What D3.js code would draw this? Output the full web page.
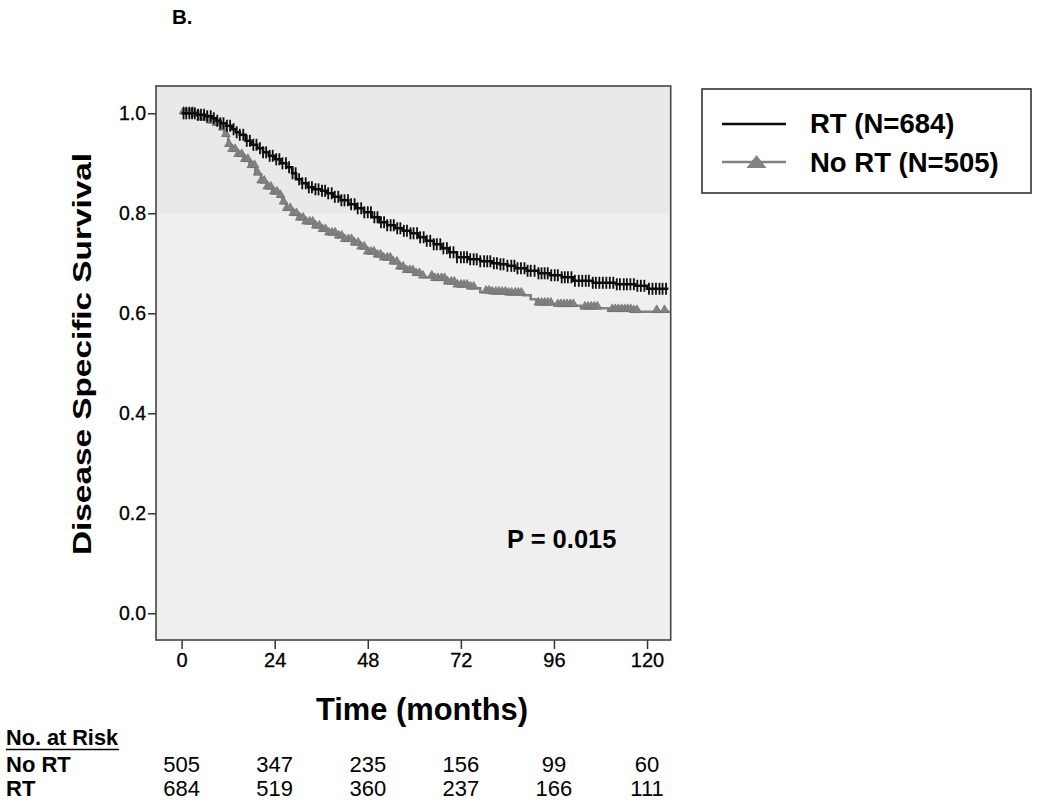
<!DOCTYPE html>
<html>
<head>
<meta charset="utf-8">
<script src="https://cdn.jsdelivr.net/npm/d3@7/dist/d3.min.js"></script>
<style>
  html, body { margin: 0; padding: 0; background: #ffffff; }
  svg { display: block; }
  text { font-family: "Liberation Sans", Arial, Helvetica, sans-serif; fill: #000; }
</style>
</head>
<body>
<svg id="chart" width="1050" height="803"></svg>
<script>
// ---------------- DATA ----------------
const xTicks = [0, 24, 48, 72, 96, 120];
const yTicks = [0.0, 0.2, 0.4, 0.6, 0.8, 1.0];

// Kaplan-Meier steps [time (months), survival]
const rtSteps = [[0,1.0],[4,0.997],[6,0.994],[8,0.99],[9,0.985],[10,0.98],[11.5,0.975],[13,0.968],[14,0.962],[15,0.957],
  [16.5,0.945],[18,0.937],[19.5,0.93],[21,0.922],[22.5,0.915],[24,0.908],[25.5,0.9],[27,0.892],[28.5,0.88],[29.5,0.868],
  [31,0.86],[32.5,0.852],[34,0.848],[36,0.845],[37.5,0.84],[39,0.833],[41,0.826],[43,0.818],[45,0.81],[47,0.802],
  [49,0.792],[51,0.782],[53,0.776],[55,0.77],[57,0.765],[59,0.76],[61,0.752],[63,0.745],[65,0.738],[67,0.73],
  [69,0.722],[71,0.712],[74,0.708],[77,0.704],[80,0.7],[82,0.698],[84,0.695],[86,0.69],[89,0.685],[92,0.68],
  [95,0.676],[98,0.672],[101,0.665],[106,0.661],[112,0.658],[117,0.655],[120,0.649],[125.5,0.649]];

const noRtSteps = [[0,1.0],[3,0.995],[5,0.988],[7,0.982],[8.5,0.977],[10,0.968],[11,0.955],[12,0.935],[13,0.925],[14.5,0.915],
  [16,0.905],[17.5,0.893],[19,0.878],[20.5,0.862],[22,0.85],[23.5,0.84],[25,0.833],[26,0.82],[27,0.807],[28.5,0.797],
  [30,0.788],[32,0.78],[34,0.772],[36,0.765],[38,0.758],[40,0.752],[42,0.745],[44,0.738],[46,0.73],[48,0.72],
  [50,0.714],[52,0.708],[54,0.7],[56,0.69],[58,0.683],[60,0.677],[62,0.672],[65,0.667],[68,0.66],[71,0.654],
  [74,0.65],[77,0.642],[80,0.64],[84,0.638],[88,0.636],[90,0.628],[91.5,0.618],[97,0.615],[103,0.61],[110,0.605],
  [116,0.603],[126,0.603]];

// censored observation times (months)
const rtCensor = [0.5,1.2,2,2.7,3.4,4.2,5,5.8,6.6,7.5,8.3,9.2,10,10.8,11.7,12.5,13.4,14.2,15,15.9,16.8,17.6,18.5,19.3,
  20.2,21,21.8,22.7,23.5,24.4,25.2,26,26.9,27.7,28.6,29.4,30.3,31.1,32,32.8,33.6,34.5,35.3,36.2,37,37.8,38.7,39.5,
  40.4,41.2,42,42.9,43.7,44.6,45.4,46.3,47.1,48,48.8,49.7,50.5,51.4,52.2,53,53.9,54.7,55.6,56.4,57.3,58.1,59,59.8,
  60.7,61.5,62.4,63.2,64.1,65,65.8,66.7,67.5,68.4,69.2,70.1,71,72,72.8,73.6,74.4,75.3,76.1,77,78,78.8,79.6,80.5,
  81.3,82.2,83,84,85,85.8,86.6,87.5,88.4,89.2,90,91,92,92.8,93.6,94.4,95.3,96.2,97,98,98.8,99.6,100.5,101.4,102.4,
  103.3,104.2,105,106,106.8,107.7,108.6,109.5,110.4,111.3,112.2,113,114,114.8,115.7,116.6,117.5,118.4,119.3,120.5,
  121.4,122.3,123.2,124,124.9];
const noRtCensor = [0.5,1.2,2,2.8,3.5,4.3,5,5.8,6.6,7.4,8.2,9,9.8,10.6,11.4,12.2,13,13.8,14.6,15.5,16.3,17.1,18,18.8,
  19.6,20.5,21.3,22.1,23,23.8,24.6,25.5,26.3,27.1,28,28.8,29.6,30.5,31.3,32.1,33,33.8,34.6,35.5,36.3,37.1,38,38.8,
  39.6,40.5,41.3,42.1,43,43.8,44.6,45.5,46.3,47.1,48,48.8,49.6,50.5,51.3,52.1,53,53.8,54.6,55.5,56.3,57.1,58,58.8,
  59.6,60.5,61.3,62.2,64.5,65.3,66.1,67,67.8,68.6,69.5,70.3,71.1,72,72.8,73.6,74.5,75.3,78.5,79.3,80.1,81,81.8,
  82.6,83.5,84.3,85.1,86,86.8,87.6,92,92.8,93.6,94.4,95.2,97,97.8,98.6,99.4,100.2,101,104,104.8,105.6,106.4,107.2,
  111,111.8,112.6,113.4,114.2,115,115.8,116.6,117.4,122.5,124.5];

const seriesNames = ["RT (N=684)", "No RT (N=505)"];
const riskRows = ["No RT", "RT"];
const riskNoRt = [505, 347, 235, 156, 99, 60];
const riskRt = [684, 519, 360, 237, 166, 111];

// ---------------- LAYOUT ----------------
const svg = d3.select("#chart");
const plot = { left: 156, right: 670.7, top: 86, bottom: 640 };
const x = d3.scaleLinear().domain([-6.6, 126.1]).range([plot.left, plot.right]);
const y = d3.scaleLinear().domain([-0.0534, 1.0546]).range([plot.bottom, plot.top]);

const FONT = '"Liberation Sans", Arial, Helvetica, sans-serif';
const rtColor = "#0d0d0d";
const noRtColor = "#828282";

// "B." label
svg.append("text").attr("x", 172).attr("y", 24).attr("font-size", 20.5).attr("font-weight", "bold").text("B.");

// plot background (two tones)
svg.append("rect").attr("x", plot.left).attr("y", plot.top)
  .attr("width", plot.right - plot.left).attr("height", plot.bottom - plot.top).attr("fill", "#efefef");
svg.append("rect").attr("x", plot.left).attr("y", plot.top)
  .attr("width", plot.right - plot.left).attr("height", y(0.8) - plot.top).attr("fill", "#e9e9e9");

// axes
const yAxis = d3.axisLeft(y).tickValues(yTicks).tickFormat(d3.format(".1f")).tickSize(8).tickPadding(2);
const gy = svg.append("g").attr("transform", `translate(${plot.left},0)`).call(yAxis);
gy.select(".domain").remove();
gy.selectAll(".tick line").attr("stroke", "#333").attr("stroke-width", 1.5);
gy.selectAll("text").attr("font-size", 19.5).attr("font-family", FONT).attr("fill", "#000")
  .attr("stroke", "#000").attr("stroke-width", 0.3);

const xAxis = d3.axisBottom(x).tickValues(xTicks).tickFormat(d3.format("d")).tickSize(9).tickPadding(4);
const gx = svg.append("g").attr("transform", `translate(0,${plot.bottom})`).call(xAxis);
gx.select(".domain").remove();
gx.selectAll(".tick line").attr("stroke", "#333").attr("stroke-width", 1.5);
gx.selectAll("text").attr("font-size", 20).attr("font-family", FONT).attr("fill", "#000")
  .attr("stroke", "#000").attr("stroke-width", 0.3);

// plot frame
svg.append("rect").attr("x", plot.left).attr("y", plot.top)
  .attr("width", plot.right - plot.left).attr("height", plot.bottom - plot.top)
  .attr("fill", "none").attr("stroke", "#444").attr("stroke-width", 1.6);

// step lines
const line = d3.line().x(d => x(d[0])).y(d => y(d[1])).curve(d3.curveStepAfter);
function survAt(steps, t) {
  const i = d3.bisectRight(steps.map(d => d[0]), t) - 1;
  return steps[Math.max(0, i)][1];
}

svg.append("path").datum(noRtSteps).attr("d", line)
  .attr("fill", "none").attr("stroke", noRtColor).attr("stroke-width", 2.6);

svg.append("g").selectAll("path").data(noRtCensor).join("path")
  .attr("d", d3.symbol(d3.symbolTriangle, 34))
  .attr("transform", d => `translate(${x(d)},${y(survAt(noRtSteps, d)) - 1.8})`)
  .attr("fill", noRtColor).attr("stroke", "#6f6f6f").attr("stroke-width", 0.7);

svg.append("path").datum(rtSteps).attr("d", line)
  .attr("fill", "none").attr("stroke", rtColor).attr("stroke-width", 2.6);

svg.append("g").selectAll("line").data(rtCensor).join("line")
  .attr("x1", d => x(d)).attr("x2", d => x(d))
  .attr("y1", d => y(survAt(rtSteps, d)) - 6).attr("y2", d => y(survAt(rtSteps, d)) + 6)
  .attr("stroke", rtColor).attr("stroke-width", 1.8);

// P value
svg.append("text").attr("x", 507).attr("y", 548).attr("font-size", 25.5).attr("font-weight", "bold").text("P = 0.015");

// axis titles
svg.append("text").attr("x", 422).attr("y", 720).attr("text-anchor", "middle")
  .attr("font-size", 32).attr("font-weight", "bold")
  .attr("textLength", 212).attr("lengthAdjust", "spacingAndGlyphs").text("Time (months)");
svg.append("text").attr("transform", "translate(91,354) rotate(-90)").attr("text-anchor", "middle")
  .attr("font-size", 26).attr("font-weight", "bold")
  .attr("textLength", 402).attr("lengthAdjust", "spacingAndGlyphs").text("Disease Specific Survival");

// legend
const lg = { x: 702, y: 89, w: 329, h: 104 };
svg.append("rect").attr("x", lg.x).attr("y", lg.y).attr("width", lg.w).attr("height", lg.h)
  .attr("fill", "#fff").attr("stroke", "#333").attr("stroke-width", 1.6);
const legRows = [
  { name: seriesNames[0], color: rtColor, ly: 124, ty: 133, tri: false },
  { name: seriesNames[1], color: noRtColor, ly: 162, ty: 172, tri: true }
];
legRows.forEach(r => {
  svg.append("line").attr("x1", 722).attr("x2", 786).attr("y1", r.ly).attr("y2", r.ly)
    .attr("stroke", r.color).attr("stroke-width", r.tri ? 2.6 : 2.4);
  if (r.tri) {
    const cx = 756.5;
    svg.append("path").attr("d", `M${cx},${r.ly - 7}L${cx + 10},${r.ly + 6}L${cx - 10},${r.ly + 6}Z`)
      .attr("fill", noRtColor);
  }
  svg.append("text").attr("x", 810).attr("y", r.ty).attr("font-size", 27.5).attr("font-weight", "bold").text(r.name);
});

// number at risk table
svg.append("text").attr("x", 6).attr("y", 745).attr("font-size", 22).attr("font-weight", "bold")
  .attr("textLength", 112).attr("lengthAdjust", "spacingAndGlyphs").text("No. at Risk");
svg.append("line").attr("x1", 6).attr("x2", 119).attr("y1", 749.5).attr("y2", 749.5)
  .attr("stroke", "#000").attr("stroke-width", 1.6);
const riskY = [772, 796];
[riskNoRt, riskRt].forEach((vals, i) => {
  svg.append("text").attr("x", 6).attr("y", riskY[i]).attr("font-size", 22).attr("font-weight", "bold").text(riskRows[i]);
  svg.append("g").selectAll("text").data(vals).join("text")
    .attr("x", (d, j) => x(xTicks[j])).attr("y", riskY[i])
    .attr("text-anchor", "middle").attr("font-size", 22).text(d => d);
});
</script>
</body>
</html>
